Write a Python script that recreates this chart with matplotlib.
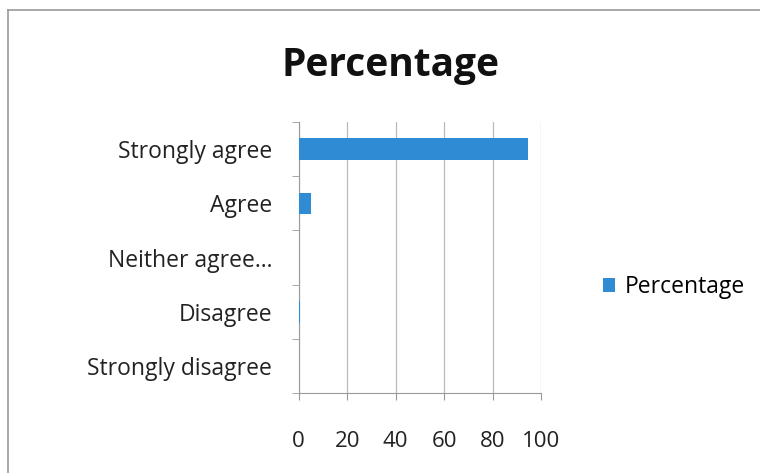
import matplotlib.pyplot as plt
import numpy as np

categories = ["Strongly agree", "Agree", "Neither agree...", "Disagree", "Strongly disagree"]
percentages = [94.5, 4.9, 0.0, 0.7, 0.0]
x_ticks = [0, 20, 40, 60, 80, 100]

plt.rcParams["font.family"] = ["Open Sans", "DejaVu Sans"]

fig = plt.figure(figsize=(7.6, 4.73), dpi=100)
ax = fig.add_axes([0.393, 0.169, 0.319, 0.573])

# outer chart frame from the scan
fig.add_artist(plt.Line2D([0.011, 0.011], [0.0, 0.978], color="#999999", lw=1.2))
fig.add_artist(plt.Line2D([0.011, 1.0], [0.978, 0.978], color="#999999", lw=1.2))

y = np.arange(len(categories))
ax.barh(y, percentages, height=0.4, color="#2F8BD3", label="Percentage", zorder=3)

ax.set_xlim(0, 100)
ax.set_ylim(len(categories) - 0.5, -0.5)
ax.set_xticks(x_ticks)
ax.set_xticklabels([str(t) for t in x_ticks], fontsize=16, color="#222222")
ax.set_yticks(y)
ax.set_yticklabels(categories, fontsize=16.5, color="#222222")
ax.set_yticks(np.arange(-0.5, len(categories)), minor=True)
ax.tick_params(axis="y", which="major", length=0, pad=19)
ax.tick_params(axis="y", which="minor", length=5, color="#999999")
ax.tick_params(axis="x", length=5, color="#999999", pad=22)

ax.grid(axis="x", color="#bbbbbb", lw=0.9, zorder=0)
for side in ["top", "right"]:
    ax.spines[side].set_visible(False)
for side in ["left", "bottom"]:
    ax.spines[side].set_color("#999999")

fig.text(0.514, 0.862, "Percentage", ha="center", va="center",
         fontsize=28, fontweight="bold", color="#111111")

fig.legend(loc="center left", bbox_to_anchor=(0.766, 0.393), frameon=False,
           fontsize=16.5, handlelength=0.55, handleheight=0.55, handletextpad=0.4)

fig.savefig("out.png", dpi=100, facecolor="white")
